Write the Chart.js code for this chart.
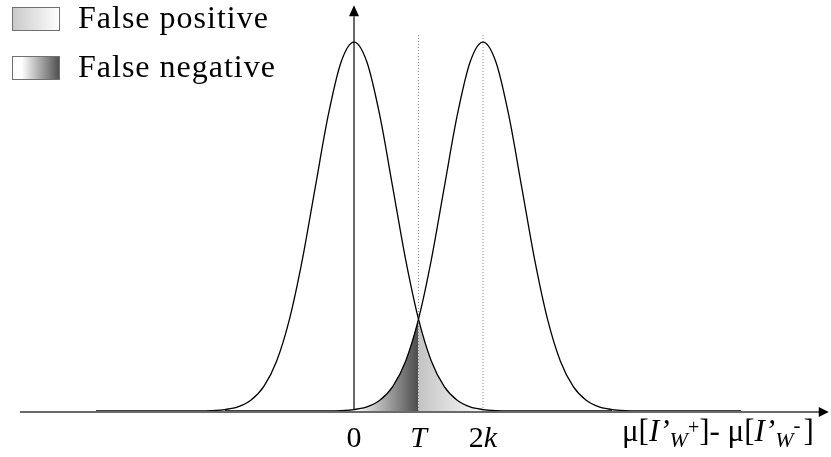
<!DOCTYPE html>
<html>
<head>
<meta charset="utf-8">
<script src="https://cdn.jsdelivr.net/npm/chart.js@4/dist/chart.umd.min.js"></script>
<style>
  html,body{margin:0;padding:0;background:#fff;}
  #wrap{width:831px;height:457px;}
</style>
</head>
<body>
<div id="wrap"><canvas id="chart" width="831" height="457"></canvas></div>
<script>
// curve centred on 0 (genuine images)
const leftX = [-4, -2.4, -2.2, -2.0, -1.8, -1.6, -1.4, -1.2, -1.0, -0.8, -0.6, -0.4, -0.2, 0,
               0.2, 0.4, 0.6, 0.8, 1.0, 1.2, 1.4, 1.6, 1.8, 2.0, 2.2, 2.4, 4];
const leftY = [0, 0, 0.001, 0.004, 0.011, 0.029, 0.066, 0.135, 0.249, 0.411, 0.607, 0.801, 0.946, 1,
               0.946, 0.801, 0.607, 0.411, 0.249, 0.135, 0.066, 0.029, 0.011, 0.004, 0.001, 0, 0];
// curve centred on 2k (watermarked images)
const rightX = [-2, -0.4, -0.2, 0, 0.2, 0.4, 0.6, 0.8, 1.0, 1.2, 1.4, 1.6, 1.8, 2.0,
                2.2, 2.4, 2.6, 2.8, 3.0, 3.2, 3.4, 3.6, 3.8, 4.0, 4.2, 4.4, 6];
const rightY = [0, 0, 0.001, 0.004, 0.011, 0.029, 0.066, 0.135, 0.249, 0.411, 0.607, 0.801, 0.946, 1,
                0.946, 0.801, 0.607, 0.411, 0.249, 0.135, 0.066, 0.029, 0.011, 0.004, 0.001, 0, 0];
// shaded tails either side of the threshold
const negX = [-0.4, -0.2, 0, 0.2, 0.4, 0.6, 0.8, 1.0];
const negY = [0, 0.001, 0.004, 0.011, 0.029, 0.066, 0.135, 0.249];
const posX = [1.0, 1.2, 1.4, 1.6, 1.8, 2.0, 2.2, 2.4];
const posY = [0.249, 0.135, 0.066, 0.029, 0.011, 0.004, 0.001, 0];

const tickVals = [0, 1, 2];
const T = 1, K2 = 2;
const guideTop = 1.024;
const legendItems = ["False positive", "False negative"];

const pts = (xs, ys) => xs.map((x, i) => ({x, y: ys[i]}));
const SERIF = '"Liberation Serif", "Times New Roman", serif';

function hGrad(chart, from, to, c0, c1){
  const {ctx, scales, chartArea} = chart;
  if(!chartArea) return c1;
  const g = ctx.createLinearGradient(scales.x.getPixelForValue(from), 0, scales.x.getPixelForValue(to), 0);
  g.addColorStop(0, c0);
  g.addColorStop(1, c1);
  return g;
}

const axesPlugin = {
  id: "axes",
  beforeDatasetsDraw(chart){
    const {ctx, scales:{x, y}} = chart;
    const y0 = y.getPixelForValue(0) + 1;
    const x0 = x.getPixelForValue(0);
    ctx.save();
    ctx.strokeStyle = "#6a6a6a";
    ctx.lineWidth = 2;
    ctx.beginPath();
    ctx.moveTo(x.getPixelForValue(-5.18), y0);
    ctx.lineTo(x.getPixelForValue(7.25), y0);
    ctx.stroke();
    ctx.beginPath();
    ctx.moveTo(x0, y0);
    ctx.lineTo(x0, y.getPixelForValue(1.07));
    ctx.stroke();
    ctx.fillStyle = "#000";
    // x arrow
    const xt = x.getPixelForValue(7.36);
    ctx.beginPath();
    ctx.moveTo(xt, y0);
    ctx.lineTo(xt - 10, y0 - 5);
    ctx.lineTo(xt - 10, y0 + 5);
    ctx.closePath();
    ctx.fill();
    // y arrow
    const yt = y.getPixelForValue(1.1);
    ctx.beginPath();
    ctx.moveTo(x0, yt);
    ctx.lineTo(x0 - 5, yt + 11);
    ctx.lineTo(x0 + 5, yt + 11);
    ctx.closePath();
    ctx.fill();
    ctx.restore();
  },
  afterDraw(chart){
    const {ctx, scales:{x}} = chart;
    ctx.save();
    ctx.fillStyle = "#000";
    ctx.textBaseline = "alphabetic";

    // legend
    const boxes = [
      {y: 7, c0: "#c8c8c8", c1: "#ffffff", s0: 0, s1: 1},
      {y: 56, c0: "#ffffff", c1: "#4c4c4c", s0: 0.2, s1: 1}
    ];
    boxes.forEach((b, i) => {
      const g = ctx.createLinearGradient(12, 0, 60, 0);
      g.addColorStop(b.s0, b.c0);
      g.addColorStop(b.s1, b.c1);
      ctx.fillStyle = g;
      ctx.fillRect(12, b.y, 48, 24);
      ctx.strokeStyle = "#707070";
      ctx.lineWidth = 1;
      ctx.strokeRect(12.5, b.y + 0.5, 47, 23);
      ctx.fillStyle = "#000";
      ctx.font = "32px " + SERIF;
      ctx.letterSpacing = "1px";
      ctx.fillText(legendItems[i], 78, b.y + 21);
    });
    ctx.letterSpacing = "0px";

    const run = (parts, startX, base) => {
      let cx = startX;
      parts.forEach(p => {
        ctx.font = (p.it ? "italic " : "") + p.size + "px " + SERIF;
        ctx.fillText(p.t, cx, base + (p.dy || 0));
        cx += ctx.measureText(p.t).width + (p.gap || 0);
      });
      return cx - startX;
    };
    const width = parts => parts.reduce((w, p) => {
      ctx.font = (p.it ? "italic " : "") + p.size + "px " + SERIF;
      return w + ctx.measureText(p.t).width;
    }, 0);

    // tick labels
    const tickParts = [
      [{t: "0", size: 30}],
      [{t: "T", size: 30, it: true}],
      [{t: "2", size: 30}, {t: "k", size: 30, it: true}]
    ];
    tickVals.forEach((v, i) => {
      const px = x.getPixelForValue(v);
      run(tickParts[i], px - width(tickParts[i]) / 2, 447);
    });

    // axis title
    const title = [
      {t: "\u03bc[", size: 31},
      {t: "I\u2019", size: 31, it: true},
      {t: "W", size: 22, it: true, dy: 6},
      {t: "+", size: 20, dy: -7},
      {t: "]- \u03bc[", size: 31},
      {t: "I\u2019", size: 31, it: true},
      {t: "W", size: 22, it: true, dy: 6},
      {t: "-", size: 21, dy: -9, gap: 3},
      {t: "]", size: 31}
    ];
    run(title, 622, 441);
    ctx.restore();
  }
};

new Chart(document.getElementById("chart"), {
  type: "scatter",
  data: {
    datasets: [
      {data: pts(leftX, leftY), showLine: true, borderColor: "#000", borderWidth: 1.3,
       cubicInterpolationMode: "monotone", pointRadius: 0, fill: false},
      {data: pts(rightX, rightY), showLine: true, borderColor: "#000", borderWidth: 1.3,
       cubicInterpolationMode: "monotone", pointRadius: 0, fill: false},
      {data: [{x: T, y: 0}, {x: T, y: guideTop}], showLine: true, borderColor: "#8c8c8c",
       borderWidth: 1, borderDash: [1, 2], pointRadius: 0},
      {data: [{x: K2, y: 0}, {x: K2, y: guideTop}], showLine: true, borderColor: "#8c8c8c",
       borderWidth: 1, borderDash: [1, 2], pointRadius: 0},
      {data: pts(negX, negY), showLine: true, borderWidth: 0, borderColor: "rgba(0,0,0,0)",
       cubicInterpolationMode: "monotone", pointRadius: 0, fill: "origin",
       backgroundColor: c => hGrad(c.chart, 0, T, "#ffffff", "#4c4c4c")},
      {data: pts(posX, posY), showLine: true, borderWidth: 0, borderColor: "rgba(0,0,0,0)",
       cubicInterpolationMode: "monotone", pointRadius: 0, fill: "origin",
       backgroundColor: c => hGrad(c.chart, T, 2.1, "#c4c4c4", "#ffffff")}
    ]
  },
  options: {
    responsive: false,
    animation: false,
    devicePixelRatio: 1,
    layout: {padding: {top: 0, left: 0, right: 0, bottom: 46}},
    scales: {
      x: {type: "linear", min: -5.488, max: 7.395, display: false},
      y: {type: "linear", min: 0, max: 1.114, display: false}
    },
    plugins: {legend: {display: false}, tooltip: {enabled: false}}
  },
  plugins: [axesPlugin]
});
</script>
</body>
</html>
